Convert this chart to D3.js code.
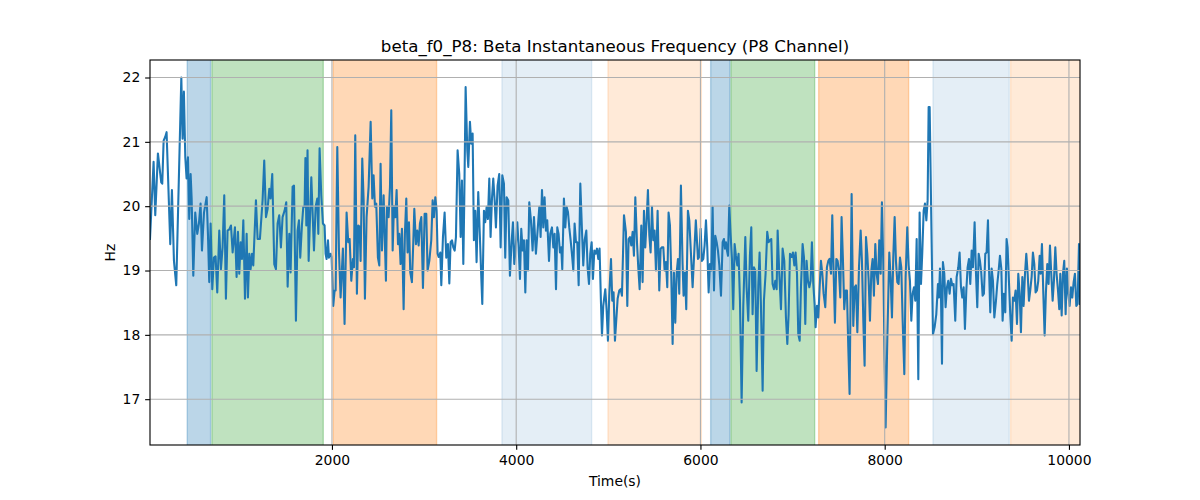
<!DOCTYPE html>
<html>
<head>
<meta charset="utf-8">
<script src="https://cdn.jsdelivr.net/npm/d3@7"></script>
<style>
  html, body { margin: 0; padding: 0; background: #ffffff; }
  svg { display: block; font-family: "DejaVu Sans", sans-serif; }
</style>
</head>
<body>
<svg id="chart" width="1200" height="500"></svg>
<script>
// ---------------- DATA ----------------
const titleText = "beta_f0_P8: Beta Instantaneous Frequency (P8 Channel)";
const xLabel = "Time(s)";
const yLabel = "Hz";
const xTicks = [2000, 4000, 6000, 8000, 10000];
const yTicks = [17, 18, 19, 20, 21, 22];

const times = [
25,64,82,111,147,158,173,191,205,245,263,285,310,365,379,393,408,422,437,451,466,477,495,516,538,556,574,589,611,640,654,668,683,701,719,737,755,777,795,813,831,849,
867,886,904,922,947,965,980,994,1009,1023,1038,1056,1074,1088,1103,1117,1132,1146,1175,1193,1218,1247,1265,1284,1302,1320,1334,1352,1374,1392,1410,1428,1446,1464,1486,1504,1519,1537,1551,1573,1588,1609,1627,1642,1656,1674,1689,1703,
1712,1722,1735,1747,1776,1805,1823,1841,1852,1866,1884,1902,1920,1931,1942,1957,1967,1986,1996,2014,2029,2040,2058,2076,2094,2119,2137,2159,2177,2192,2210,2228,2239,2253,2271,2286,2300,2311,2329,2344,2358,2376,2398,2420,2438,2452,2467,2481,2499,2514,2528,2543,
2561,2586,2597,2615,2630,2644,2659,2673,2688,2702,2717,2731,2745,2760,2778,2792,2807,2821,2836,2850,2868,2883,2894,2912,2926,2941,2955,2970,2988,3006,3024,3038,3057,3078,3093,3107,3122,3136,3147,3158,3176,3187,3205,3223,3241,3259,3274,3288,3303,3317,3332,3346,3364,3382,3397,3411,
3426,3436,3451,3469,3480,3498,3512,3527,3541,3556,3570,3588,3606,3621,3632,3650,3664,3679,3693,3708,3722,3737,3751,3766,3780,3798,3816,3831,3849,3867,3881,3896,3914,3932,3950,3965,3979,3994,4012,4026,4041,4055,4070,4084,4099,4113,4128,4142,4160,4178,4193,4214,
4251,4265,4280,4294,4308,4323,4337,4356,4370,4388,4403,4417,4432,4446,4460,4475,4489,4500,4518,4533,4547,4562,4576,4591,4605,4620,4634,4649,4663,4678,4696,4714,4728,4743,4761,4775,4790,4804,4819,4833,4848,4862,4877,4891,4905,4920,4931,4945,4967,4981,4996,5010,5029,5043,5057,5072,
5101,5119,5133,5148,5170,5191,5206,5220,5235,5249,5264,5278,5293,5311,5325,5340,5358,5372,5387,5401,5416,5430,5445,5459,5474,5488,5502,5517,5535,5553,5568,5582,5597,5611,5626,5640,5654,5669,5683,5698,5712,5727,5741,5756,5770,5788,5806,5817,5832,5846,5864,5879,5897,5915,
5930,5950,5973,5987,6002,6016,6031,6045,6060,6074,6089,6103,6118,6132,6147,6161,6176,6190,6205,6223,6241,6255,6266,6277,6288,6299,6313,6327,6342,6356,6371,6385,6400,6414,6429,6447,6465,6487,6501,6519,6537,6552,6566,6581,6595,6610,6628,6642,6657,6675,6689,6707,6725,6740,6754,6769,6783,
6798,6812,6827,6838,6856,6874,6892,6910,6928,6943,6957,6972,6990,7004,7019,7033,7048,7062,7077,7091,7109,7124,7138,7152,7167,7182,7196,7210,7225,7239,7250,7265,7279,7294,7308,7323,7337,7355,7373,7388,7402,7417,7431,7446,7460,7475,7489,7503,7518,7532,7547,7561,7576,7590,7605,7619,7641,
7659,7674,7688,7703,7721,7739,7753,7768,7782,7797,7811,7826,7840,7855,7869,7883,7898,7912,7927,7941,7956,7970,7985,7999,8010,8028,8050,8064,8079,8093,8108,8122,8137,8151,8166,8180,8195,8213,8227,8245,8260,8274,8289,8303,8318,8332,8347,8365,8379,8394,8408,8423,8437,8452,8466,8477,
8488,8506,8524,8542,8560,8578,8589,8600,8611,8622,8632,8647,8661,8676,8690,8705,8719,8734,8748,8766,8781,8799,8813,8828,8842,8857,8871,8886,8900,8915,8929,8944,8958,8976,8991,9005,9020,9034,9048,9063,9077,9092,9106,9121,9132,9146,9161,9175,9190,9208,9222,9237,9251,9266,9280,9294,9309,9323,
9334,9349,9363,9378,9392,9407,9421,9436,9450,9465,9479,9494,9508,9523,9537,9552,9566,9580,9595,9609,9624,9638,9653,9667,9682,9693,9707,9722,9736,9750,9765,9779,9794,9808,9823,9837,9852,9866,9881,9895,9906,9921,9935,9949,9964,9978,9993,10007,10022,10036,10051,10065,10080,10094,10109,10120
];

const values = [
19.49,20.69,19.86,20.82,20.37,20.35,21.02,21.08,21.15,19.41,20.25,19.15,18.77,22.0,21.05,21.78,20.76,20.43,20.76,19.8,20.5,20.12,18.92,19.9,19.57,19.73,20.04,19.31,19.9,20.14,19.57,18.82,19.73,18.71,19.2,19.22,18.66,19.62,19.02,19.36,20.17,18.56,
19.62,19.64,19.7,19.28,19.67,18.9,19.6,18.95,19.44,19.18,19.78,18.56,19.57,18.58,19.26,19.02,19.26,19.08,20.09,19.49,19.49,20.09,20.71,19.83,19.96,20.27,20.12,20.5,19.1,19.02,19.73,19.86,19.36,19.83,19.93,20.06,18.75,19.57,18.97,20.3,20.32,18.22,19.62,19.78,19.2,19.7,19.99,19.99,
20.75,19.7,20.87,19.15,20.45,19.31,19.99,20.12,19.57,20.9,20.17,19.73,19.7,19.26,19.18,19.47,19.2,19.26,19.21,18.45,18.69,18.69,20.92,19.31,18.58,19.34,18.17,19.9,19.44,19.49,18.84,19.18,19.05,21.1,18.64,19.7,19.68,19.15,20.74,20.09,18.56,19.83,20.3,21.31,20.12,20.48,19.99,20.04,19.2,19.08,20.66,19.31,
20.17,18.84,19.99,19.83,20.3,21.49,19.31,20.0,19.83,20.25,19.41,19.57,19.1,19.65,18.4,19.57,20.12,19.28,19.75,18.97,18.82,19.44,19.96,19.41,19.62,19.39,19.73,19.83,18.73,19.88,19.88,19.0,19.15,19.47,20.09,19.83,20.14,19.93,19.26,19.21,19.28,18.77,19.52,19.9,19.2,19.41,18.8,19.44,19.47,19.36,19.31,19.52,20.87,20.5,19.52,20.4,
19.1,20.04,21.85,20.87,20.61,21.31,20.97,21.13,19.47,19.93,19.13,20.22,19.52,18.9,18.48,19.93,19.75,19.99,19.8,20.43,19.52,20.12,20.43,20.09,19.67,20.32,20.5,19.36,20.48,20.35,19.2,20.14,20.09,18.92,19.44,19.75,19.1,19.34,19.75,19.39,18.87,19.65,19.31,19.47,18.66,19.47,19.0,20.06,19.78,19.31,19.83,19.26,
19.99,19.52,20.25,19.67,20.14,19.62,19.78,19.15,19.57,19.67,19.36,19.57,18.71,19.67,19.57,19.28,19.36,19.02,20.12,19.67,19.99,19.91,19.67,19.47,19.26,19.0,19.73,19.44,19.44,18.77,20.35,19.62,19.08,19.47,19.62,19.05,18.79,19.26,19.44,18.87,19.31,19.26,19.34,19.18,19.34,18.51,17.99,18.45,18.71,18.4,17.91,18.61,19.18,18.53,18.66,17.91,
18.56,18.69,18.71,18.61,19.86,19.6,18.45,19.49,19.52,19.39,19.6,19.23,20.14,19.44,19.05,18.71,19.7,18.82,19.93,19.36,19.78,20.25,19.55,19.28,19.99,19.47,19.62,19.0,19.93,18.69,19.34,19.36,19.36,19.0,19.13,18.74,19.9,19.7,18.95,17.86,18.97,18.19,18.95,19.18,18.64,20.32,19.1,18.61,18.97,18.4,19.93,19.78,19.26,18.74,
19.2,19.78,19.18,19.21,19.65,19.15,19.18,19.39,19.78,19.36,18.66,19.1,19.0,19.99,18.69,19.54,19.44,19.31,19.08,18.61,19.44,19.49,19.34,19.44,19.31,19.23,20.01,19.57,19.18,18.4,19.41,19.23,19.08,19.26,18.53,16.95,18.45,19.52,18.74,18.22,19.23,19.67,18.32,19.05,19.0,17.44,18.77,19.28,18.43,17.13,18.53,18.95,19.6,19.44,19.47,19.49,18.79,
18.71,18.84,18.71,19.62,18.95,18.4,19.34,19.15,18.27,17.86,18.32,19.26,19.21,19.28,19.08,19.28,18.95,18.01,17.91,18.74,19.41,19.2,18.17,19.15,18.84,18.74,18.84,19.44,18.79,18.48,18.12,18.45,18.27,18.74,19.15,18.95,18.64,18.43,19.05,19.15,19.18,18.95,19.86,18.95,18.19,19.18,19.15,19.0,18.58,19.83,19.15,18.4,18.69,18.69,17.8,17.08,20.19,
18.14,18.74,18.77,18.04,19.05,19.62,19.15,18.22,17.52,19.52,19.26,18.84,18.22,19.0,19.18,18.61,19.41,18.95,18.79,19.47,18.95,20.06,19.08,17.6,16.56,17.91,19.28,18.89,18.27,19.2,19.83,19.15,18.82,18.79,19.2,19.05,18.22,17.39,18.89,19.67,19.08,18.84,18.22,18.64,18.74,18.53,19.49,17.31,19.9,18.79,19.28,19.93,20.04,19.78,20.09,21.54,
21.54,19.78,18.01,18.12,18.32,18.79,18.58,19.03,18.61,17.55,19.13,18.95,18.43,18.74,18.84,18.64,18.87,18.77,18.79,18.22,18.9,19.05,19.28,18.74,18.58,18.74,18.09,18.69,19.05,19.18,18.79,19.31,19.05,19.75,18.95,18.43,19.26,19.15,18.97,18.61,18.64,19.26,19.28,19.78,19.05,18.35,19.03,18.84,18.27,18.53,18.79,19.0,19.23,19.03,18.22,18.64,18.35,19.49,
19.36,18.82,18.32,17.91,18.58,18.53,18.69,18.17,18.95,18.64,18.04,18.9,18.45,18.95,19.26,18.95,18.53,18.69,18.9,19.28,19.1,18.66,18.69,18.84,19.23,18.95,19.41,18.64,17.99,18.66,19.1,18.79,19.39,18.95,18.53,18.84,19.36,18.95,18.69,18.4,18.95,18.3,18.95,19.15,18.32,19.03,18.64,18.45,18.74,18.58,18.82,18.95,18.45,18.48,19.41,18.48
];

// shaded intervals (time units) and their kind
const bandStarts = [429, 697, 2014, 3845, 4996, 6111, 6331, 7283, 8524, 9367];
const bandEnds   = [683, 1906, 3136, 4819, 6010, 6320, 7240, 8260, 9352, 10400];
const bandKinds  = ["blue", "green", "orange", "lightblue", "lightorange",
                    "blue", "green", "orange", "lightblue", "lightorange"];

// ---------------- DRAW ----------------
const m = { left: 150, right: 1080, top: 60, bottom: 445 };
const PT = 100 / 72; // matplotlib points -> px

const svg = d3.select("#chart");

const xExt = d3.extent(times);
const yExt = d3.extent(values);
const yPad = (yExt[1] - yExt[0]) * 0.05;

const x = d3.scaleLinear().domain(xExt).range([m.left, m.right]);
const y = d3.scaleLinear().domain([yExt[0] - yPad, yExt[1] + yPad]).range([m.bottom, m.top]);

const bandStyle = {
  blue:        { color: "#1f77b4", alpha: 0.3 },
  green:       { color: "#2ca02c", alpha: 0.3 },
  orange:      { color: "#ff7f0e", alpha: 0.3 },
  lightblue:   { color: "#1f77b4", alpha: 0.12 },
  lightorange: { color: "#ff7f0e", alpha: 0.16 }
};

svg.append("defs").append("clipPath").attr("id", "plotclip")
  .append("rect")
  .attr("x", m.left).attr("y", m.top)
  .attr("width", m.right - m.left).attr("height", m.bottom - m.top);

const plot = svg.append("g").attr("clip-path", "url(#plotclip)");

// bands
const bands = bandStarts.map((s, i) => ({ s, e: bandEnds[i], k: bandKinds[i] }));
plot.selectAll("rect.band").data(bands).enter().append("rect")
  .attr("class", "band")
  .attr("x", d => x(d.s))
  .attr("y", m.top - 5)
  .attr("width", d => x(d.e) - x(d.s))
  .attr("height", m.bottom - m.top + 10)
  .attr("fill", d => bandStyle[d.k].color)
  .attr("fill-opacity", d => bandStyle[d.k].alpha)
  .attr("stroke", d => bandStyle[d.k].color)
  .attr("stroke-opacity", d => bandStyle[d.k].alpha)
  .attr("stroke-width", 1 * PT);

// grid
const grid = svg.append("g");
grid.selectAll("line.gx").data(xTicks).enter().append("line")
  .attr("x1", d => x(d)).attr("x2", d => x(d))
  .attr("y1", m.top).attr("y2", m.bottom)
  .attr("stroke", "#b0b0b0").attr("stroke-width", 0.8 * PT);
grid.selectAll("line.gy").data(yTicks).enter().append("line")
  .attr("x1", m.left).attr("x2", m.right)
  .attr("y1", d => y(d)).attr("y2", d => y(d))
  .attr("stroke", "#b0b0b0").attr("stroke-width", 0.8 * PT);

// line
const line = d3.line().x((d, i) => x(times[i])).y(d => y(d));
plot.append("path")
  .datum(values)
  .attr("d", line)
  .attr("fill", "none")
  .attr("stroke", "#1f77b4")
  .attr("stroke-width", 1.5 * PT)
  .attr("stroke-linejoin", "round")
  .attr("stroke-linecap", "square");

// axes
const xAxis = d3.axisBottom(x).tickValues(xTicks).tickFormat(d3.format("d"))
  .tickSizeInner(3.5 * PT).tickSizeOuter(0).tickPadding(3.5 * PT);
const yAxis = d3.axisLeft(y).tickValues(yTicks).tickFormat(d3.format("d"))
  .tickSizeInner(3.5 * PT).tickSizeOuter(0).tickPadding(3.5 * PT);

const gx = svg.append("g").attr("transform", `translate(0,${m.bottom})`).call(xAxis);
const gy = svg.append("g").attr("transform", `translate(${m.left},0)`).call(yAxis);
[gx, gy].forEach(g => {
  g.select(".domain").remove();
  g.selectAll(".tick line").attr("stroke", "#000").attr("stroke-width", 0.8 * PT);
  g.selectAll(".tick text").attr("fill", "#000")
    .style("font-family", "'DejaVu Sans', sans-serif").style("font-size", "13.9px");
});

// spines
svg.append("rect")
  .attr("x", m.left).attr("y", m.top)
  .attr("width", m.right - m.left).attr("height", m.bottom - m.top)
  .attr("fill", "none").attr("stroke", "#000").attr("stroke-width", 0.8 * PT);

// title & labels
svg.append("text")
  .attr("x", (m.left + m.right) / 2).attr("y", 52)
  .attr("text-anchor", "middle")
  .style("font-size", "16.67px").attr("fill", "#000")
  .text(titleText);

svg.append("text")
  .attr("x", (m.left + m.right) / 2).attr("y", 486)
  .attr("text-anchor", "middle")
  .style("font-size", "13.9px").attr("fill", "#000")
  .text(xLabel);

svg.append("text")
  .attr("transform", `translate(115,${(m.top + m.bottom) / 2}) rotate(-90)`)
  .attr("text-anchor", "middle")
  .style("font-size", "13.9px").attr("fill", "#000")
  .text(yLabel);
</script>
</body>
</html>
